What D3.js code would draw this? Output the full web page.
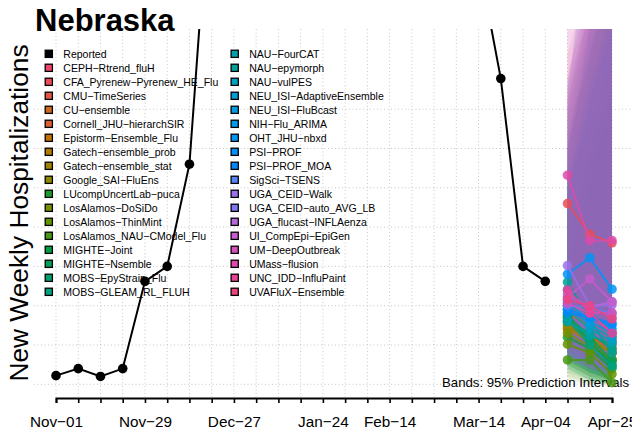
<!DOCTYPE html>
<html>
<head>
<meta charset="utf-8">
<script src="https://cdn.jsdelivr.net/npm/d3@7"></script>
<style>
    body { margin: 0; background: #fff; }
    svg { display: block; font-family: "Liberation Sans", Arial, Helvetica, sans-serif; }
</style>
</head>
<body>
<div id="chart"></div>
<script>
// Reported weekly hospitalizations (values above the top of the plot are estimates, they get clipped)
const reportedDates = ["2024-11-01","2024-11-08","2024-11-15","2024-11-22","2024-11-29","2024-12-06",
    "2024-12-13","2024-12-20","2024-12-27","2025-01-03","2025-01-10","2025-01-17","2025-01-24",
    "2025-01-31","2025-02-07","2025-02-14","2025-02-21","2025-02-28","2025-03-07","2025-03-14",
    "2025-03-21","2025-03-28","2025-04-04"];
const reportedValues = [11, 20, 10, 20, 131, 150, 280, 670, 880, 950, 820, 780, 860,
    1020, 1050, 900, 760, 650, 580, 539, 389, 150, 131];

const forecastDates = ["2025-04-11", "2025-04-18", "2025-04-25"];

const models = ["CEPH-Rtrend_fluH", "CFA_Pyrenew-Pyrenew_HE_Flu", "CMU-TimeSeries", "CU-ensemble",
    "Cornell_JHU-hierarchSIR", "Epistorm-Ensemble_Flu", "Gatech-ensemble_prob", "Gatech-ensemble_stat",
    "Google_SAI-FluEns", "LUcompUncertLab-puca", "LosAlamos-DoSiDo", "LosAlamos-ThinMint",
    "LosAlamos_NAU-CModel_Flu", "MIGHTE-Joint", "MIGHTE-Nsemble", "MOBS-EpyStrain_Flu",
    "MOBS-GLEAM_RL_FLUH", "NAU-FourCAT", "NAU-epymorph", "NAU-vulPES", "NEU_ISI-AdaptiveEnsemble",
    "NEU_ISI-FluBcast", "NIH-Flu_ARIMA", "OHT_JHU-nbxd", "PSI-PROF", "PSI-PROF_MOA", "SigSci-TSENS",
    "UGA_CEID-Walk", "UGA_CEID-auto_AVG_LB", "UGA_flucast-INFLAenza", "UI_CompEpi-EpiGen",
    "UM-DeepOutbreak", "UMass-flusion", "UNC_IDD-InfluPaint", "UVAFluX-Ensemble"];

// position of each model on the hue wheel (colours were given in case-insensitive order)
const hueRank = [0, 1, 2, 4, 3, 5, 6, 7, 8, 12, 9, 10, 11, 13, 14, 15, 16, 18, 17, 19, 20, 21, 22,
    23, 24, 25, 26, 28, 27, 29, 30, 31, 32, 33, 34];

// medians, 95% lower and upper for the three horizons
const medians = [[100, 80, 65], [230, 191, 180], [95, 70, 55], [90, 75, 60], [85, 60, 45],
    [78, 62, 50], [70, 55, 40], [72, 58, 30], [75, 60, 40], [60, 45, 20], [65, 48, 32],
    [51, 40, 13], [31, 31, 2], [85, 55, 25], [88, 60, 30], [80, 65, 45], [82, 50, 23],
    [80, 62, 52], [130, 82, 40], [95, 70, 55], [100, 75, 60], [105, 80, 65], [120, 90, 70],
    [140, 161, 121], [96, 85, 75], [91, 85, 78], [100, 98, 90], [151, 100, 101], [110, 98, 85],
    [115, 98, 105], [111, 134, 105], [103, 91, 91], [266, 183, 183], [120, 91, 65], [108, 100, 83]];
const lower95 = [[40, 25, 15], [120, 80, 50], [45, 25, 15], [40, 20, 10], [35, 15, 5],
    [35, 20, 10], [30, 15, 5], [25, 10, 0], [30, 15, 5], [15, 5, 0], [25, 10, 5],
    [10, 2, 0], [5, 0, 0], [20, 5, 0], [25, 10, 2], [30, 15, 5], [20, 5, 0],
    [35, 20, 10], [40, 15, 5], [30, 15, 5], [45, 25, 15], [40, 20, 10], [50, 30, 15],
    [60, 50, 30], [40, 25, 15], [35, 25, 15], [30, 20, 10], [60, 40, 25], [40, 25, 15],
    [35, 25, 20], [30, 20, 10], [35, 20, 15], [90, 60, 40], [40, 20, 10], [45, 30, 15]];
const upper95 = [[300, 420, 520], [420, 520, 600], [260, 330, 400], [280, 400, 520], [240, 360, 480],
    [250, 380, 500], [220, 300, 380], [260, 400, 560], [230, 320, 420], [300, 450, 600], [200, 280, 350],
    [180, 300, 420], [150, 260, 380], [320, 430, 540], [340, 460, 560], [260, 350, 450], [250, 380, 480],
    [230, 300, 380], [380, 480, 600], [300, 420, 520], [280, 380, 480], [300, 420, 540], [350, 480, 620],
    [370, 600, 700], [250, 380, 480], [240, 360, 460], [300, 450, 600], [390, 520, 650], [320, 460, 620],
    [360, 500, 680], [380, 560, 700], [470, 520, 600], [520, 600, 700], [390, 500, 580], [360, 480, 560]];

const gridValues = [0, 50, 100, 150, 200, 250, 300, 350];
const tickLabelDates = ["2024-11-01", "2024-11-29", "2024-12-27", "2025-01-24", "2025-02-14",
    "2025-03-14", "2025-04-04", "2025-04-25"];

const W = 632, H = 432;
const plot = {left: 34, right: 634, top: 29, bottom: 398};
const parse = d3.utcParse("%Y-%m-%d");

const svg = d3.select("#chart").append("svg")
    .attr("width", W)
    .attr("height", H);

const x = d3.scaleUtc()
    .domain([parse("2024-11-01"), parse("2025-04-25")])
    .range([56, 612]);
const y = d3.scaleLinear()
    .domain([0, 435])
    .range([384.3, 42.4]);

const color = i => d3.hcl(15 + 360 * hueRank[i] / models.length, 68, 56).formatHex();

svg.append("defs").append("clipPath")
    .attr("id", "clip")
    .append("rect")
    .attr("x", plot.left)
    .attr("y", plot.top)
    .attr("width", plot.right - plot.left)
    .attr("height", plot.bottom - plot.top);

const weeks = d3.utcFriday.range(parse("2024-11-01"), d3.utcDay.offset(parse("2025-04-25"), 1));

// grid
const grid = svg.append("g").attr("class", "grid")
    .attr("stroke", "#c8c8c8")
    .attr("stroke-dasharray", "1,2.5");
grid.selectAll("line.v")
    .data(weeks)
    .enter().append("line")
    .attr("class", "v")
    .attr("x1", d => x(d)).attr("x2", d => x(d))
    .attr("y1", plot.top).attr("y2", plot.bottom - 1);
grid.selectAll("line.h")
    .data(gridValues)
    .enter().append("line")
    .attr("class", "h")
    .attr("x1", plot.left).attr("x2", plot.right)
    .attr("y1", d => y(d)).attr("y2", d => y(d));

// prediction bands
const bandArea = d3.area()
    .x(d => x(d.date))
    .y0(d => y(d.lo))
    .y1(d => y(d.hi));
const bands = svg.append("g").attr("clip-path", "url(#clip)");
models.forEach((m, i) => {
    const pts = forecastDates.map((d, h) => ({date: parse(d), lo: lower95[i][h], hi: upper95[i][h]}));
    bands.append("path")
        .datum(pts)
        .attr("d", bandArea)
        .attr("fill", color(i))
        .attr("fill-opacity", 0.12);
});

// legend
const legend = svg.append("g").attr("class", "legend");
const entries = [{name: "Reported", fill: "#000"}].concat(models.map((m, i) => ({name: m, fill: color(i)})));
entries.forEach((e, i) => {
    const col = i < 18 ? 0 : 1;
    const row = i % 18;
    const g = legend.append("g")
        .attr("transform", `translate(${col === 0 ? 48.8 : 234.7}, ${53.8 + row * 14})`);
    g.append("rect")
        .attr("x", -3.6).attr("y", -3.6)
        .attr("width", 7.2).attr("height", 7.2)
        .attr("fill", e.fill)
        .attr("stroke", "#000")
        .attr("stroke-width", 1.3);
    g.append("text")
        .attr("x", 14.5)
        .attr("dy", "0.36em")
        .attr("font-size", 10.5)
        .text(e.name.replace(/-/g, "\u2212"));
});

// reported series
const reported = reportedDates.map((d, i) => ({date: parse(d), value: reportedValues[i]}));
const obs = svg.append("g").attr("clip-path", "url(#clip)");
obs.append("path")
    .datum(reported)
    .attr("fill", "none")
    .attr("stroke", "#000")
    .attr("stroke-width", 2)
    .attr("d", d3.line().x(d => x(d.date)).y(d => y(d.value)));
obs.selectAll("circle")
    .data(reported)
    .enter().append("circle")
    .attr("cx", d => x(d.date))
    .attr("cy", d => y(d.value))
    .attr("r", 4.8)
    .attr("fill", "#000");

// bands note
svg.append("text")
    .attr("x", 629)
    .attr("y", 387)
    .attr("text-anchor", "end")
    .attr("font-size", 13.2)
    .text("Bands: 95% Prediction Intervals");

// model medians
const fc = svg.append("g").attr("clip-path", "url(#clip)");
models.forEach((m, i) => {
    const pts = forecastDates.map((d, h) => ({date: parse(d), value: medians[i][h]}));
    const g = fc.append("g").attr("opacity", 0.85);
    g.append("path")
        .datum(pts)
        .attr("fill", "none")
        .attr("stroke", color(i))
        .attr("stroke-width", 2)
        .attr("d", d3.line().x(d => x(d.date)).y(d => y(d.value)));
    g.selectAll("circle")
        .data(pts)
        .enter().append("circle")
        .attr("cx", d => x(d.date))
        .attr("cy", d => y(d.value))
        .attr("r", 4.8)
        .attr("fill", color(i));
});

// x axis
const labelSet = new Set(tickLabelDates);
const fmt = d3.utcFormat("%b-%d");
const xAxis = svg.append("g")
    .attr("transform", `translate(0, ${plot.bottom})`)
    .call(d3.axisBottom(x)
        .tickValues(weeks)
        .tickSizeOuter(0)
        .tickSize(5)
        .tickFormat(d => labelSet.has(d3.utcFormat("%Y-%m-%d")(d)) ? fmt(d).replace("-", "\u2212") : ""));
xAxis.select(".domain").attr("stroke-width", 2);
xAxis.selectAll(".tick line").attr("stroke-width", 1.6);
xAxis.selectAll(".tick text")
    .attr("y", 29)
    .attr("dy", 0)
    .attr("font-size", 15.3)
    .attr("font-family", "Liberation Sans, Arial, sans-serif")
    .attr("fill", "#000");

// titles
svg.append("text")
    .attr("x", 35)
    .attr("y", 31)
    .attr("font-size", 31)
    .attr("font-weight", "bold")
    .text("Nebraska");

svg.append("text")
    .attr("transform", "translate(28, 213) rotate(-90)")
    .attr("text-anchor", "middle")
    .attr("font-size", 26.3)
    .text("New Weekly Hospitalizations");
</script>
</body>
</html>
